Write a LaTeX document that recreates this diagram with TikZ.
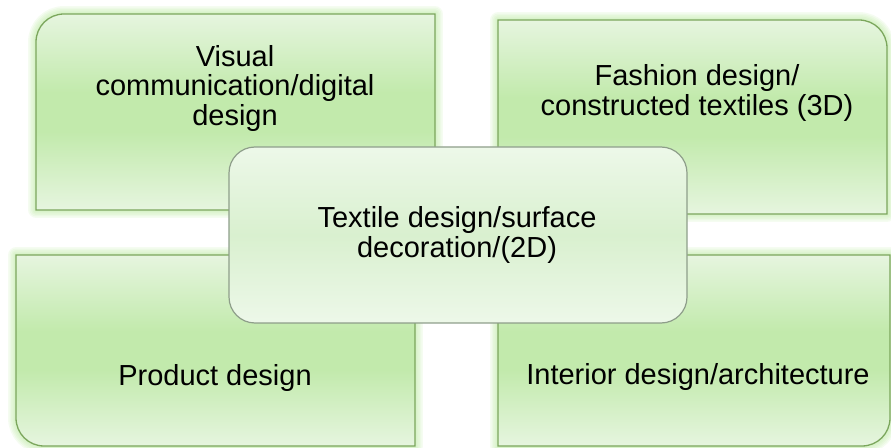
\documentclass[tikz,border=0pt]{standalone}
\usepackage{fontspec}
\setmainfont{Liberation Sans}
\definecolor{boxlight}{HTML}{E6F5DF}
\definecolor{boxdark}{HTML}{C2EAAC}
\definecolor{hublight}{HTML}{EDF8E9}
\definecolor{hubdark}{HTML}{D9F0CF}
\definecolor{boxline}{HTML}{7BA65C}
\definecolor{hubline}{HTML}{8E9E8A}
\definecolor{glow}{HTML}{B8E89C}
\pgfdeclareverticalshading{quadshade}{100bp}{color(0bp)=(boxlight); color(25bp)=(boxlight); color(45bp)=(boxdark); color(55bp)=(boxdark); color(75bp)=(boxlight); color(100bp)=(boxlight)}
\pgfdeclareverticalshading{hubshade}{100bp}{color(0bp)=(hublight); color(25bp)=(hublight); color(50bp)=(hubdark); color(75bp)=(hublight); color(100bp)=(hublight)}
% quadrant outlines (one rounded outer corner each), y grows downwards
\def\tlpath{(36,210) -- (36,42) .. controls (36,26.5) and (48.5,14) .. (64,14) -- (435,14) -- (435,210) -- cycle}
\def\trpath{(498,214) -- (498,20) -- (859,20) .. controls (874.5,20) and (887,32.5) .. (887,48) -- (887,214) -- cycle}
\def\blpath{(16,255) -- (415,255) -- (415,446) -- (44,446) .. controls (28.5,446) and (16,433.5) .. (16,418) -- cycle}
\def\brpath{(498,255) -- (890,255) -- (890,418) .. controls (890,433.5) and (877.5,446) .. (862,446) -- (498,446) -- cycle}
\begin{document}
\begin{tikzpicture}[x=1bp,y=-1bp,
  glowpass/.style={draw=glow, line width=#1, opacity=.14, line join=round},
  quad/.style={shading=quadshade, draw=boxline, line width=1.3bp},
  hubbox/.style={shading=hubshade, draw=hubline, line width=1.2bp, rounded corners=26bp},
  label/.style={align=center, inner sep=0pt, text=black,
    font=\fontsize{29bp}{29.5bp}\selectfont}]
\useasboundingbox (0,0) rectangle (891,448);
% soft green halo round the four quadrants, built from stacked translucent strokes
\foreach \w in {16,13,10,7,4}{
  \path[glowpass=\w] \tlpath;
  \path[glowpass=\w] \trpath;
  \path[glowpass=\w] \blpath;
  \path[glowpass=\w] \brpath;
}
\path[quad] \tlpath;
\path[quad] \trpath;
\path[quad] \blpath;
\path[quad] \brpath;
% central rounded box
\path[hubbox] (229,147) rectangle (687,323);
% labels
\node[label] (tl) at (235,88.2) {Visual\\communication/digital\\design};
\node[label] (tr) at (697,93.2) {Fashion design/\\constructed textiles (3D)};
\node[label] (hub) at (457,235.2) {Textile design/surface\\decoration/(2D)};
\node[label] (bl) at (215,377.6) {Product design};
\node[label] (br) at (698,376.6) {Interior design/architecture};
\end{tikzpicture}
\end{document}
